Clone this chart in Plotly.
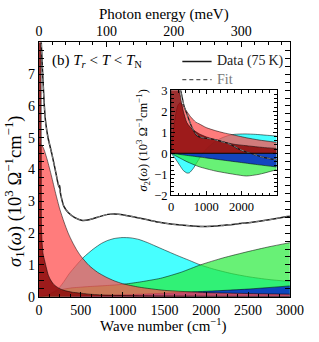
import plotly.graph_objects as go

# ---------------- data ----------------
# Main panel: sigma_1 (10^3 Ohm^-1 cm^-1) versus wave number (cm^-1)
data_w = [12, 25, 45, 65, 80, 109, 154, 195, 225, 240, 248, 255, 270, 297, 353, 429, 520, 600, 700, 823, 902,
          1000, 1152, 1300, 1421, 1600, 1873, 2000, 2177, 2400, 2549, 2750, 2966, 3000]
data_s = [9.5, 8.2, 7.0, 6.0, 5.5, 5.0, 4.5, 4.0, 3.6, 3.45, 3.5, 3.3, 3.1, 2.85, 2.64, 2.49, 2.40, 2.42, 2.5, 2.59, 2.6,
          2.58, 2.5, 2.42, 2.35, 2.28, 2.22, 2.21, 2.24, 2.3, 2.34, 2.42, 2.52, 2.53]

fit_w = [12, 25, 45, 65, 80, 109, 154, 195, 240, 270, 297, 353, 429, 520, 600, 700, 823, 902,
         1000, 1152, 1300, 1421, 1600, 1873, 2000, 2177, 2400, 2549, 2750, 2966, 3000]
fit_s = [9.5, 8.2, 7.0, 6.0, 5.5, 5.0, 4.5, 4.0, 3.45, 3.1, 2.85, 2.64, 2.49, 2.40, 2.42, 2.5, 2.59, 2.6,
         2.58, 2.5, 2.42, 2.35, 2.28, 2.22, 2.21, 2.24, 2.3, 2.34, 2.42, 2.52, 2.53]

# Oscillator components of sigma_1
drude1_w = [0, 15, 25, 28, 30, 36, 50, 70, 90, 110, 139, 180, 237, 300, 400, 473, 600, 800, 1200, 2000, 3000]
drude1_s = [20, 16, 10, 5.0, 2.3, 1.8, 1.35, 1.12, 0.9, 0.7, 0.53, 0.38, 0.27, 0.2, 0.14, 0.12, 0.08, 0.05, 0.03, 0.015, 0.008]

drude2_w = [0, 50, 100, 150, 200, 250, 300, 350, 400, 450, 500, 600, 700, 800, 900, 1000, 1200, 1500, 2000, 2500, 3000]
drude2_s = [4.85, 4.7, 4.3, 3.8, 3.25, 2.75, 2.35, 2.0, 1.72, 1.48, 1.28, 0.98, 0.77, 0.62, 0.5, 0.41, 0.3, 0.2, 0.13, 0.1, 0.08]

cyan_w = [0, 75, 150, 237, 300, 361, 450, 530, 650, 750, 823, 900, 993, 1100, 1196, 1300, 1387, 1500, 1650, 1800,
          1929, 2100, 2300, 2500, 2750, 3000]
cyan_s = [0, 0.025, 0.1, 0.27, 0.48, 0.72, 1.0, 1.23, 1.5, 1.68, 1.77, 1.83, 1.86, 1.85, 1.8, 1.7, 1.6, 1.47, 1.3, 1.14,
          1.0, 0.86, 0.73, 0.63, 0.54, 0.48]

green_w = [0, 100, 150, 237, 300, 400, 500, 600, 800, 1004, 1200, 1455, 1700, 1929, 2200, 2500, 2750, 3000]
green_s = [0, 0.05, 0.12, 0.2, 0.24, 0.28, 0.3, 0.32, 0.35, 0.39, 0.46, 0.58, 0.77, 1.0, 1.22, 1.42, 1.57, 1.7]

blue_w = [0, 300, 600, 1000, 1500, 2000, 2500, 3000]
blue_s = [0, 0.01, 0.03, 0.06, 0.11, 0.17, 0.24, 0.34]

# Inset: sigma_2 (10^3 Ohm^-1 cm^-1)
data2_w = [150, 200, 240, 276, 320, 364, 410, 453, 520, 587, 650, 720, 800, 898, 1000, 1100, 1253, 1420, 1609,
           1787, 1950, 2143, 2350, 2571, 2800, 3000]
data2_s = [4.5, 3.8, 3.35, 3.0, 2.65, 2.3, 2.05, 1.86, 1.55, 1.26, 1.05, 0.88, 0.78, 0.73, 0.71, 0.69, 0.65, 0.57, 0.48,
           0.33, 0.18, 0.06, -0.05, -0.17, -0.25, -0.31]
fit2_s = [4.5, 3.8, 3.35, 3.0, 2.65, 2.3, 2.05, 1.86, 1.55, 1.26, 1.05, 0.9, 0.8, 0.74, 0.72, 0.69, 0.64, 0.56, 0.47,
          0.34, 0.19, 0.06, -0.05, -0.17, -0.25, -0.31]

drude1b_w = [0, 3, 10, 60, 120, 190, 250, 300, 350, 453, 600, 808, 1000, 1253, 1500, 1787, 2200, 2600, 3000]
drude1b_s = [0, 4.0, 8.0, 8.0, 5.5, 3.7, 2.9, 2.4, 2.0, 1.45, 1.15, 0.92, 0.78, 0.65, 0.54, 0.43, 0.35, 0.28, 0.23]

drude2b_w = [0, 50, 100, 150, 200, 258, 320, 436, 550, 704, 800, 1000, 1253, 1500, 1698, 2133, 2500, 3000]
drude2b_s = [0, 0.8, 1.5, 2.0, 2.3, 2.4, 2.33, 2.02, 1.75, 1.48, 1.4, 1.22, 1.08, 0.97, 0.9, 0.74, 0.63, 0.52]

cyanb_w = [0, 100, 200, 266, 350, 453, 520, 632, 720, 800, 900, 1000, 1200, 1400, 1600, 1800, 2100, 2400, 2700, 3000]
cyanb_s = [0, -0.2, -0.45, -0.62, -0.82, -0.94, -0.93, -0.72, -0.48, -0.26, 0.0, 0.2, 0.5, 0.7, 0.83, 0.9, 0.92, 0.9, 0.86, 0.82]

greenb_w = [0, 200, 453, 800, 1253, 1787, 2143, 2500, 3000]
greenb_s = [0, -0.18, -0.4, -0.64, -0.84, -1.0, -1.08, -1.0, -0.78]

blueb_w = [0, 500, 1000, 1500, 2000, 2500, 3000]
blueb_s = [0, -0.11, -0.22, -0.33, -0.44, -0.55, -0.65]

# axis ticks
wn_ticks = [0, 500, 1000, 1500, 2000, 2500, 3000]
mev_ticks = [0, 100, 200, 300]
s1_ticks = [0, 1, 2, 3, 4, 5, 6, 7]
inset_x_ticks = [0, 1000, 2000]
inset_y_ticks = [-2, -1, 0, 1, 2, 3]
CM_PER_MEV = 8.0655

# ---------------- styling ----------------
FONT = "Liberation Serif, Times New Roman, DejaVu Serif, serif"
C_DR = "rgba(140,10,10,0.85)"
C_SA = "rgba(255,80,80,0.75)"
C_CY = "rgba(0,255,255,0.72)"
C_GR = "rgba(40,235,60,0.7)"
C_BL = "rgba(10,50,200,0.9)"
EDGE = "rgba(0,0,0,0.75)"

W, H = 319, 342


def px(x):
    return x / W


def py(y):
    return 1 - y / H


fig = go.Figure()


def comp(w, s, color, xa, ya):
    fig.add_trace(go.Scatter(x=w, y=s, mode="lines", fill="tozeroy", fillcolor=color,
                             line=dict(color=EDGE, width=0.7, shape="spline", smoothing=0.6),
                             xaxis=xa, yaxis=ya, showlegend=False, hoverinfo="skip"))


# main panel
comp(cyan_w, cyan_s, C_CY, "x", "y")
comp(green_w, green_s, C_GR, "x", "y")
comp(blue_w, blue_s, C_BL, "x", "y")
comp(drude2_w, drude2_s, C_SA, "x", "y")
comp(drude1_w, drude1_s, C_DR, "x", "y")
fig.add_trace(go.Scatter(x=data_w, y=data_s, mode="lines", line=dict(color="#1a1a1a", width=1.5, shape="spline", smoothing=0.5),
                         xaxis="x", yaxis="y", showlegend=False, hoverinfo="skip"))
fig.add_trace(go.Scatter(x=fit_w, y=fit_s, mode="lines", line=dict(color="#8a8a8a", width=1.0, dash="4px,3px", shape="spline", smoothing=0.5),
                         xaxis="x", yaxis="y", showlegend=False, hoverinfo="skip"))
# top (meV) axis carrier
fig.add_trace(go.Scatter(x=[mev_ticks[0]], y=[None], mode="lines", xaxis="x2", yaxis="y",
                         showlegend=False, hoverinfo="skip"))

# inset
comp(cyanb_w, cyanb_s, C_CY, "x3", "y3")
comp(greenb_w, greenb_s, C_GR, "x3", "y3")
comp(blueb_w, blueb_s, C_BL, "x3", "y3")
comp(drude2b_w, drude2b_s, C_SA, "x3", "y3")
comp(drude1b_w, drude1b_s, C_DR, "x3", "y3")
fig.add_trace(go.Scatter(x=data2_w, y=data2_s, mode="lines", line=dict(color="#1a1a1a", width=1.2, shape="spline", smoothing=0.5),
                         xaxis="x3", yaxis="y3", showlegend=False, hoverinfo="skip"))
fig.add_trace(go.Scatter(x=data2_w, y=fit2_s, mode="lines", line=dict(color="#8a8a8a", width=0.9, dash="4px,3px", shape="spline", smoothing=0.5),
                         xaxis="x3", yaxis="y3", showlegend=False, hoverinfo="skip"))

tickfont = dict(family=FONT, size=14, color="black")
inset_font = dict(family=FONT, size=12.5, color="black")

main_x_dom = [px(37), px(303)]
main_y_dom = [py(303), py(37)]
ins_x_dom = [px(177), px(289)]
ins_y_dom = [py(197), py(87)]

axis_common = dict(showline=True, linecolor="black", linewidth=1, ticks="inside", tickcolor="black",
                   showgrid=False, zeroline=False)

fig.update_layout(
    width=W, height=H, margin=dict(l=0, r=0, t=0, b=0),
    paper_bgcolor="white", plot_bgcolor="white", showlegend=False,
    font=dict(family=FONT),
    xaxis=dict(domain=main_x_dom, range=[0, 3000], anchor="y", tickmode="array", tickvals=wn_ticks,
               ticklen=5, tickwidth=1, mirror=False, tickfont=tickfont,
               minor=dict(ticks="inside", ticklen=3, dtick=125, tick0=0, tickcolor="black"), **axis_common),
    xaxis2=dict(overlaying="x", side="top", anchor="y", range=[0, 3000 / CM_PER_MEV], tickmode="array",
                tickvals=mev_ticks, ticklen=5, tickwidth=1, tickfont=tickfont,
                minor=dict(ticks="inside", ticklen=3, dtick=20, tick0=0, tickcolor="black"), **axis_common),
    yaxis=dict(domain=main_y_dom, range=[0, 8], anchor="x", tickmode="array", tickvals=s1_ticks,
               ticklen=5, tickwidth=1, mirror="allticks", tickfont=tickfont,
               minor=dict(ticks="inside", ticklen=3, dtick=0.25, tick0=0, tickcolor="black"), **axis_common),
    xaxis3=dict(domain=ins_x_dom, range=[0, 3000], anchor="y3", tickmode="array", tickvals=inset_x_ticks,
                ticklen=4, tickwidth=1, mirror="allticks", tickfont=inset_font,
                minor=dict(ticks="inside", ticklen=2.5, dtick=200, tick0=0, tickcolor="black"), **axis_common),
    yaxis3=dict(domain=ins_y_dom, range=[-2, 3], anchor="x3", tickmode="array", tickvals=inset_y_ticks,
                ticklen=4, tickwidth=1, mirror="allticks", tickfont=inset_font,
                minor=dict(ticks="inside", ticklen=2.5, dtick=0.2, tick0=0, tickcolor="black"), **axis_common),
)

# zero line of inset
fig.add_shape(type="line", xref="x3 domain", yref="y3", x0=0, x1=1, y0=0, y1=0,
              line=dict(color="black", width=1), layer="above")

# legend (drawn manually)
fig.add_shape(type="line", xref="paper", yref="paper", x0=px(189), x1=px(220), y0=py(57), y1=py(57),
              line=dict(color="#1a1a1a", width=1.5))
fig.add_shape(type="line", xref="paper", yref="paper", x0=px(189), x1=px(220), y0=py(76), y1=py(76),
              line=dict(color="#555555", width=1.1, dash="4px,3px"))

ann = [
    dict(text="Data (75\u2009K)", x=px(224), y=py(57), xanchor="left", yanchor="middle",
         font=dict(family=FONT, size=14, color="#222222")),
    dict(text="Fit", x=px(224), y=py(76), xanchor="left", yanchor="middle",
         font=dict(family=FONT, size=14, color="#777777")),
    dict(text="(b) <i>T</i><sub><i>r</i></sub> &lt; <i>T</i> &lt; <i>T</i><sub>N</sub>", x=px(49), y=py(57),
         xanchor="left", yanchor="middle", font=dict(family=FONT, size=15, color="black")),
    dict(text="Photon energy (meV)", x=px(170), y=py(8), xanchor="center", yanchor="middle",
         font=dict(family=FONT, size=15, color="black")),
    dict(text="Wave number (cm<sup>\u22121</sup>)", x=px(169), y=py(333), xanchor="center", yanchor="middle",
         font=dict(family=FONT, size=15, color="black")),
    dict(text="<i>\u03c3</i><sub>1</sub>(<i>\u03c9</i>) (10<sup>3</sup> \u03a9<sup>\u22121</sup>cm<sup>\u22121</sup>)",
         x=px(11), y=py(193), xanchor="center", yanchor="middle", textangle=-90,
         font=dict(family=FONT, size=18.5, color="black")),
    dict(text="<i>\u03c3</i><sub>2</sub>(<i>\u03c9</i>) (10<sup>3</sup> \u03a9<sup>\u22121</sup>cm<sup>\u22121</sup>)",
         x=px(147), y=py(140), xanchor="center", yanchor="middle", textangle=-90,
         font=dict(family=FONT, size=12.5, color="black")),
]
for a in ann:
    fig.add_annotation(xref="paper", yref="paper", showarrow=False, **a)

fig.write_html("out.html", config={"displayModeBar": False},
               post_script="document.body.style.margin='0';document.body.style.padding='0';")
